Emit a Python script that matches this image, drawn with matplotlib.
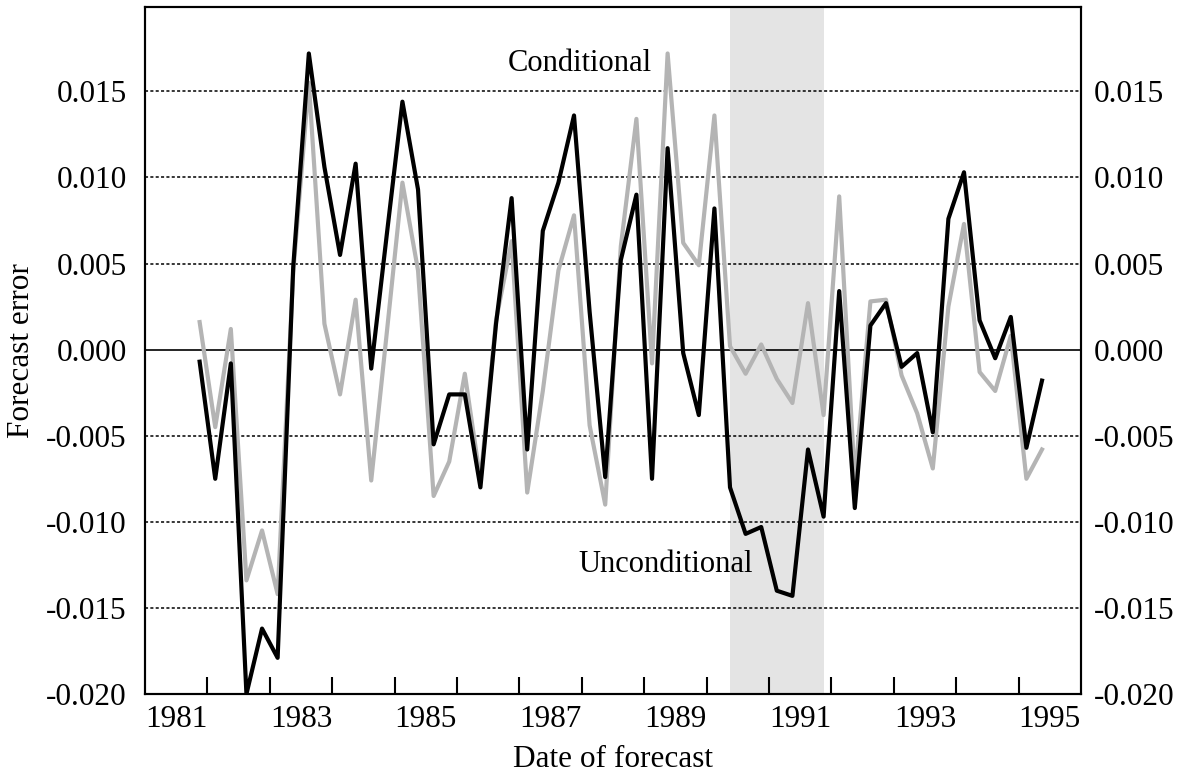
import numpy as np
import matplotlib
matplotlib.use("Agg")
import matplotlib.pyplot as plt

plt.rcParams['font.family'] = ['Liberation Serif', 'DejaVu Serif']

# quarterly forecast errors, first point 1981Q4 (plotted at mid-quarter)
first_date = 1981.875
unconditional = [-0.0007, -0.0075, -0.0008, -0.0200, -0.0162, -0.0179, 0.0048,
                 0.0172, 0.0106, 0.0055, 0.0108, -0.0011, 0.0067, 0.0144,
                 0.0093, -0.0055, -0.0026, -0.0026, -0.0080, 0.0015, 0.0088,
                 -0.0058, 0.0069, 0.0097, 0.0136, 0.0022, -0.0074, 0.0052,
                 0.0090, -0.0075, 0.0117, -0.0002, -0.0038, 0.0082, -0.0080,
                 -0.0107, -0.0103, -0.0140, -0.0143, -0.0058, -0.0097, 0.0034,
                 -0.0092, 0.0014, 0.0027, -0.0010, -0.0002, -0.0048, 0.0076,
                 0.0103, 0.0017, -0.0005, 0.0019, -0.0057, -0.0018]
conditional = [0.0016, -0.0045, 0.0012, -0.0134, -0.0105, -0.0142, 0.0045,
               0.0155, 0.0015, -0.0026, 0.0029, -0.0076, 0.0010, 0.0097,
               0.0046, -0.0085, -0.0065, -0.0014, -0.0076, 0.0017, 0.0063,
               -0.0083, -0.0024, 0.0046, 0.0078, -0.0044, -0.0090, 0.0060,
               0.0134, -0.0008, 0.0172, 0.0062, 0.0049, 0.0136, 0.0002,
               -0.0014, 0.0003, -0.0017, -0.0031, 0.0027, -0.0038, 0.0089,
               -0.0076, 0.0028, 0.0029, -0.0015, -0.0037, -0.0069, 0.0025,
               0.0073, -0.0013, -0.0024, 0.0008, -0.0075, -0.0058]
recession = (1990.375, 1991.875)
year_labels = ['1981', '1983', '1985', '1987', '1989', '1991', '1993', '1995']
y_ticks = [-0.020, -0.015, -0.010, -0.005, 0.000, 0.005, 0.010, 0.015]

dates = first_date + 0.25 * np.arange(len(unconditional))
fs = 22.5

fig = plt.figure(figsize=(11.84, 7.75), dpi=100)
ax = fig.add_axes([0.1225, 0.1045, 0.7905, 0.8865])

ax.axvspan(recession[0], recession[1], color='#e4e4e4', lw=0, zorder=0)
for v in y_ticks:
    if v == 0:
        ax.axhline(0, color='black', lw=1.2, zorder=1)
    elif v > -0.020:
        ax.axhline(v, color='black', lw=1.1, ls=(0, (2, 1.5)), zorder=1)

ax.plot(dates, conditional, color='#b4b4b4', lw=3, zorder=2)
ax.plot(dates, unconditional, color='black', lw=3, zorder=3)

ax.set_xlim(1981, 1996)
ax.set_ylim(-0.020, 0.0199)

ax.set_xticks(range(1982, 1996))
ax.set_xticklabels([])
ax.set_xticks([int(y) + 0.5 for y in year_labels], minor=True)
ax.set_xticklabels(year_labels, minor=True)
ax.tick_params(axis='x', which='major', direction='in', length=12, width=1.5)
ax.tick_params(axis='x', which='minor', length=0, labelsize=fs, pad=8)

labels = ['%.3f' % v for v in y_ticks]
ax.set_yticks(y_ticks)
ax.set_yticklabels(labels)
ax.tick_params(axis='y', length=0, labelsize=fs, pad=13)

# right-hand copy of the value axis
ax2 = ax.twinx()
ax2.set_ylim(ax.get_ylim())
ax2.set_yticks(y_ticks)
ax2.set_yticklabels(labels)
ax2.tick_params(axis='y', length=0, labelsize=fs, pad=9)

for a in (ax, ax2):
    for s in a.spines.values():
        s.set_linewidth(1.5)

ax.text(1987.97, 0.0166, 'Conditional', fontsize=22, ha='center', va='center')
ax.text(1989.35, -0.0125, 'Unconditional', fontsize=22, ha='center', va='center')

ax.set_xlabel('Date of forecast', fontsize=fs, labelpad=8)
ax.set_ylabel('Forecast error', fontsize=fs)
ax.yaxis.set_label_coords(-0.117, 0.5)

fig.savefig('out.png', dpi=100)
